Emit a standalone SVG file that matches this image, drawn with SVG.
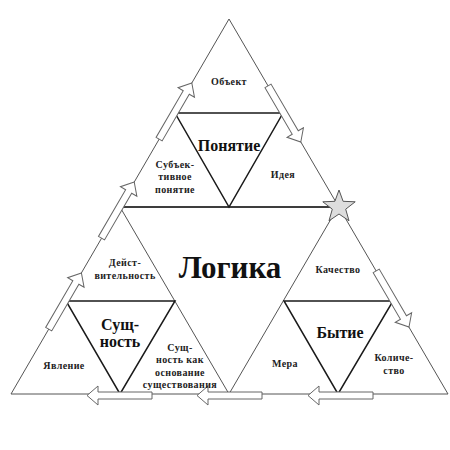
<svg xmlns="http://www.w3.org/2000/svg" xmlns:xlink="http://www.w3.org/1999/xlink" width="450" height="450" viewBox="0 0 450 450">
<style>
.edge{fill:none;stroke:#555;stroke-width:1;stroke-linejoin:miter}
.inner{fill:none;stroke:#1a1a1a;stroke-width:1.5}
.arr{fill:#fff;stroke:#666;stroke-width:1}
text{font-family:"Liberation Serif","DejaVu Serif","Times New Roman",serif;font-weight:bold;text-anchor:middle}
.sm{font-size:10px;fill:#222;letter-spacing:0.4px}
.md{font-size:16px;fill:#111}
.lg{font-size:31px;fill:#111}
</style>
<defs>
<path id="arrow" d="M0,0 L-11,-9.5 L-11,-3.5 L-65,-3.5 L-65,3.5 L-11,3.5 L-11,9.5 Z"/>
</defs>
<rect width="450" height="450" fill="#fff"/>
<g id="frame">
<polygon class="edge" points="229,19 11,394 448,394"/>
<polygon class="edge" points="120,207 338,207 229,394"/>
<line class="inner" x1="120" y1="207" x2="338" y2="207"/>
<polygon class="inner" points="175,113 283,113 229,207"/>
<polygon class="inner" points="66,301 175,301 120,394"/>
<polygon class="inner" points="284,301 393,301 338,394"/>
</g>
<g id="connectors">
<use xlink:href="#arrow" class="arr" transform="translate(81.4,273) rotate(-59.8)"/>
<use xlink:href="#arrow" class="arr" transform="translate(134.2,182) rotate(-59.8)"/>
<use xlink:href="#arrow" class="arr" transform="translate(191.8,83) rotate(-59.8)"/>
<use xlink:href="#arrow" class="arr" transform="translate(300.8,142) rotate(59.7)"/>
<use xlink:href="#arrow" class="arr" transform="translate(409,327) rotate(59.7)"/>
<use xlink:href="#arrow" class="arr" transform="translate(87,395.5) rotate(180)"/>
<use xlink:href="#arrow" class="arr" transform="translate(197,395.5) rotate(180)"/>
<use xlink:href="#arrow" class="arr" transform="translate(308,395.5) rotate(180)"/>
</g>
<g id="star">
<polygon points="339,190 343.1,201.3 355.2,201.8 345.7,209.2 349,220.8 339,214 329,220.8 332.3,209.2 322.8,201.8 334.9,201.3" fill="#ddd" stroke="#555" stroke-width="1"/>
</g>
<g id="node-logika"><text class="lg" x="230" y="278">Логика</text></g>
<g id="node-ponyatie"><text class="md" x="229" y="151">Понятие</text></g>
<g id="node-obekt"><text class="sm" x="229" y="85">Объект</text></g>
<g id="node-subj"><text class="sm" x="175" y="168">Субъек-</text><text class="sm" x="175" y="180">тивное</text><text class="sm" x="175" y="193">понятие</text></g>
<g id="node-ideya"><text class="sm" x="283" y="178">Идея</text></g>
<g id="node-sushchnost"><text class="md" x="120" y="330">Сущ-</text><text class="md" x="120" y="347">ность</text></g>
<g id="node-deistv"><text class="sm" x="125" y="266">Дейст-</text><text class="sm" x="125" y="279">вительность</text></g>
<g id="node-yavlenie"><text class="sm" x="64" y="369">Явление</text></g>
<g id="node-osnovanie"><text class="sm" x="180" y="351">Сущ-</text><text class="sm" x="180" y="363">ность как</text><text class="sm" x="180" y="376">основание</text><text class="sm" x="180" y="388">существования</text></g>
<g id="node-bytie"><text class="md" x="340" y="338">Бытие</text></g>
<g id="node-kachestvo"><text class="sm" x="338" y="273">Качество</text></g>
<g id="node-mera"><text class="sm" x="285" y="367">Мера</text></g>
<g id="node-kolichestvo"><text class="sm" x="394" y="361">Количе-</text><text class="sm" x="394" y="374">ство</text></g>
</svg>
